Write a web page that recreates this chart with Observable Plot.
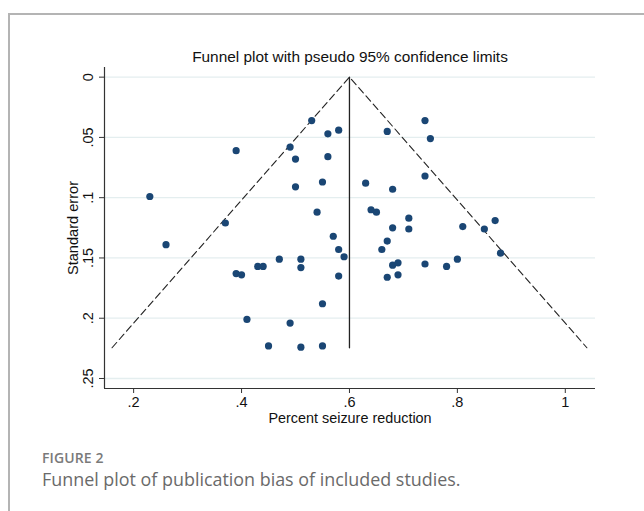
<!DOCTYPE html>
<html><head><meta charset="utf-8">
<script src="https://cdn.jsdelivr.net/npm/d3@7"></script>
<script src="https://cdn.jsdelivr.net/npm/@observablehq/plot@0.6"></script>
<style>
html,body{margin:0;padding:0;background:#fff;}
#wrap{position:relative;width:644px;height:511px;overflow:hidden;}
#frame{position:absolute;left:8px;top:13px;width:660px;height:520px;border-top:2px solid #b4b4b4;border-left:2px solid #b4b4b4;box-sizing:border-box;}
#chart{position:absolute;left:0;top:0;}
#fig{position:absolute;left:42px;top:448px;font-family:"Open Sans",sans-serif;font-size:14px;font-weight:600;color:#7a7a7a;letter-spacing:0.1px;}
#cap{position:absolute;left:42px;top:467px;font-family:"Open Sans",sans-serif;font-size:17.9px;color:#6a6a6a;}
</style></head>
<body>
<div id="wrap"><div id="frame"></div><div id="chart"></div>
<div id="fig">FIGURE 2</div>
<div id="cap">Funnel plot of publication bias of included studies.</div></div>
<script>
const effect = [0.53,0.56,0.58,0.39,0.49,0.50,0.56,0.55,0.50,0.23,0.54,0.37,0.57,0.74,0.67,0.75,0.74,0.63,0.68,0.64,0.65,0.71,0.68,0.71,0.81,0.85,0.87,0.26,0.58,0.59,0.39,0.40,0.43,0.44,0.47,0.51,0.51,0.58,0.55,0.41,0.49,0.45,0.51,0.55,0.67,0.66,0.68,0.69,0.67,0.69,0.74,0.78,0.80,0.88];
const stderr = [0.036,0.047,0.044,0.061,0.058,0.068,0.066,0.087,0.091,0.099,0.112,0.121,0.132,0.036,0.045,0.051,0.082,0.088,0.093,0.110,0.112,0.117,0.125,0.126,0.124,0.126,0.119,0.139,0.143,0.149,0.163,0.164,0.157,0.157,0.151,0.151,0.158,0.165,0.188,0.201,0.204,0.223,0.224,0.223,0.136,0.143,0.156,0.154,0.166,0.164,0.155,0.157,0.151,0.146];
const pooled = 0.6;
const seMax = 0.2245;
const z = 1.96;
const xTicks = [0.2,0.4,0.6,0.8,1];
const xTickLabels = [".2",".4",".6",".8","1"];
const yTicks = [0,0.05,0.1,0.15,0.2,0.25];
const yTickLabels = ["0",".05",".1",".15",".2",".25"];
const title = "Funnel plot with pseudo 95% confidence limits";
const xLabel = "Percent seizure reduction";
const yLabel = "Standard error";

const pts = effect.map((e,i)=>({x:e, y:stderr[i]}));
const funnel = [
  {x: pooled - z*seMax, y: seMax},
  {x: pooled, y: 0},
  {x: pooled + z*seMax, y: seMax}
];
const xDom = [0.146, 1.056];
const yDom = [-0.008, 0.2583];
const font = "'Liberation Sans', Arial, sans-serif";

const chart = Plot.plot({
  width: 644, height: 440,
  marginLeft: 104, marginRight: 49, marginTop: 67, marginBottom: 52,
  style: {fontFamily: font, fontSize: "14px", color: "#111", background: "transparent"},
  x: {domain: xDom, ticks: xTicks},
  y: {domain: yDom, reverse: true, ticks: yTicks},
  marks: [
    Plot.gridY(yTicks, {stroke: "#e4eeef", strokeOpacity: 1, strokeWidth: 1.3}),
    Plot.ruleX([xDom[0]], {stroke: "#333", strokeWidth: 1.2}),
    Plot.ruleY([yDom[1]], {stroke: "#333", strokeWidth: 1.2}),
    Plot.axisX({ticks: xTicks, tickSize: 5, tickPadding: 3, tickFormat: (d,i)=>xTickLabels[i], label: null, stroke: "#333", fontSize: 14.5, fill: "#111"}),
    Plot.axisY({ticks: yTicks, tickSize: 5, tickFormat: () => "", label: null, stroke: "#333"}),
    Plot.text(yTicks, {x: () => xDom[0], y: d => d, text: (d,i)=>yTickLabels[i], rotate: -90, dx: -16, textAnchor: "middle", lineAnchor: "middle", fontSize: 14.5, fill: "#111"}),
    Plot.text([yLabel], {frameAnchor: "left", dx: -31, rotate: -90, textAnchor: "middle", lineAnchor: "middle", fontSize: 14.6, fill: "#111"}),
    Plot.text([xLabel], {frameAnchor: "bottom", dy: 30, textAnchor: "middle", lineAnchor: "middle", fontSize: 14.4, fill: "#111"}),
    Plot.text([title], {frameAnchor: "top", dy: -10, textAnchor: "middle", lineAnchor: "middle", fontSize: 15.4, fill: "#111"}),
    Plot.line(funnel, {x: "x", y: "y", stroke: "#222", strokeWidth: 1.1, strokeDasharray: "7,4"}),
    Plot.line([{x: pooled, y: 0}, {x: pooled, y: seMax}], {x: "x", y: "y", stroke: "#222", strokeWidth: 1.3}),
    Plot.dot(pts, {x: "x", y: "y", r: 3.6, fill: "#1a4674", stroke: "none"})
  ]
});
document.getElementById("chart").appendChild(chart);
</script>
</body></html>
